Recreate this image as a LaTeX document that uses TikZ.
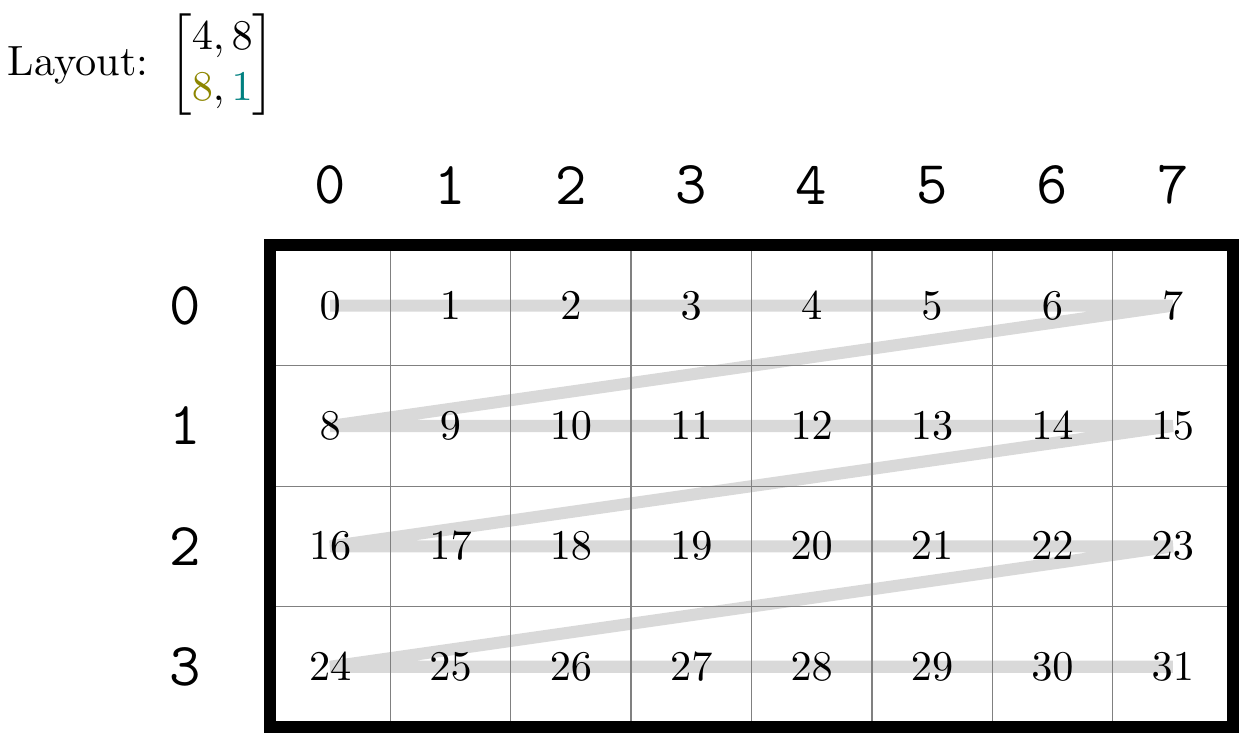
\documentclass[tikz,border=0pt]{standalone}
\usepackage{amsmath}
\begin{document}
\begin{tikzpicture}[x=1cm,y=1cm,
  cellnum/.style={inner sep=0pt, font=\normalsize},
  axislabel/.style={inner sep=0pt, font=\Large\ttfamily},
  gridline/.style={gray, line width=0.3pt},
  trace/.style={black!15, line width=1mm},
  frameline/.style={black, line width=1mm}]
\useasboundingbox (-2.243,2.039) rectangle (8.05,-4.05);
% trace path
\foreach \r in {0,...,3}{
  \foreach \c in {0,...,7}{
    \pgfmathtruncatemacro{\n}{\r*8+\c}
    \coordinate (p\n) at (\c+0.5,-\r-0.5);
  }
}
\draw[trace] (p0) \foreach \n in {1,...,31}{ -- (p\n)};
% grid
\draw[gridline] (0,0) grid (8,-4);
% numbers
\foreach \r in {0,...,3}{
  \foreach \c in {0,...,7}{
    \pgfmathtruncatemacro{\n}{\r*8+\c}
    \node[cellnum] (n\n) at (p\n) {$\n$};
  }
}
% frame
\draw[frameline] (0,0) rectangle (8,-4);
% column labels
\foreach \c in {0,...,7}{
  \node[axislabel] (col\c) at (\c+0.5,0.5) {\c};
}
% row labels
\foreach \r in {0,...,3}{
  \node[axislabel] (row\r) at (-0.706,-\r-0.5) {\r};
}
% layout
\node[anchor=west, inner sep=0pt] (layout) at (-2.185,1.50) {Layout:\hspace{5pt}$\begin{bmatrix}4,8\\ \textcolor{olive}{8},\textcolor{teal}{1}\end{bmatrix}$};
\end{tikzpicture}
\end{document}
